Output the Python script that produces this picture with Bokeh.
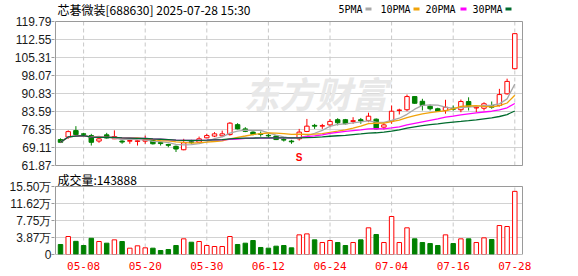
import pandas as pd
from bokeh.plotting import figure
from bokeh.layouts import column
from bokeh.models import ColumnDataSource, FixedTicker, Range1d, NumeralTickFormatter
from bokeh.core.properties import value
from bokeh.embed import file_html
from bokeh.resources import INLINE

# ---------------- data ----------------
dates = ["04-30", "05-06", "05-07", "05-08", "05-09", "05-12", "05-13", "05-14", "05-15", "05-16",
         "05-19", "05-20", "05-21", "05-22", "05-23", "05-26", "05-27", "05-28", "05-29", "05-30",
         "06-03", "06-04", "06-05", "06-06", "06-09", "06-10", "06-11", "06-12", "06-13", "06-16",
         "06-17", "06-18", "06-19", "06-20", "06-23", "06-24", "06-25", "06-26", "06-27", "06-30",
         "07-01", "07-02", "07-03", "07-04", "07-07", "07-08", "07-09", "07-10", "07-11", "07-14",
         "07-15", "07-16", "07-17", "07-18", "07-21", "07-22", "07-23", "07-24", "07-25", "07-28"]

opens = [72.3, 73.3, 75.9, 74.6, 73.9, 71.7, 74.2, 72.6, 71.7, 71.65,
         71.55, 71.65, 72.2, 71.1, 70.3, 69.6, 68.2, 71.4, 71.25, 73.0,
         73.7, 73.8, 74.3, 78.3, 76.6, 75.3, 74.6, 74.0, 73.7, 72.3,
         71.7, 72.6, 75.55, 78.0, 77.7, 78.2, 80.3, 80.3, 79.6, 80.3,
         80.0, 80.5, 77.3, 79.7, 84.0, 84.3, 89.6, 87.7, 85.7, 84.7,
         84.0, 84.9, 84.3, 87.6, 85.0, 84.9, 86.0, 86.0, 90.7, 100.8]
highs = [72.8, 76.0, 77.7, 75.0, 74.6, 73.5, 75.0, 76.0, 72.2, 72.9,
         72.2, 73.9, 72.6, 71.2, 70.6, 69.9, 72.6, 72.2, 73.5, 74.6,
         75.3, 75.9, 79.3, 78.9, 77.3, 75.6, 75.55, 74.6, 74.0, 72.85,
         72.2, 76.6, 80.6, 78.6, 78.6, 80.6, 80.9, 80.6, 81.3, 81.0,
         83.1, 80.8, 79.0, 86.0, 84.7, 90.4, 89.8, 88.7, 86.4, 85.1,
         88.3, 86.0, 88.4, 89.3, 85.6, 87.3, 87.6, 92.7, 96.8, 115.0]
lows = [70.9, 72.6, 73.8, 73.9, 69.9, 71.0, 72.6, 72.5, 70.6, 70.6,
        69.9, 70.6, 70.3, 69.9, 69.2, 67.3, 68.0, 70.6, 70.9, 72.8,
        73.3, 73.3, 73.9, 76.4, 75.3, 74.0, 73.5, 73.0, 72.1, 71.5,
        70.6, 71.9, 75.3, 76.6, 76.6, 77.3, 78.0, 78.4, 78.65, 78.65,
        79.3, 76.4, 76.35, 78.65, 82.4, 83.7, 86.7, 84.0, 84.0, 83.5,
        82.7, 83.9, 83.3, 84.0, 83.3, 84.0, 84.7, 85.6, 90.4, 100.5]
closes = [71.2, 75.5, 74.3, 74.4, 71.2, 72.6, 72.9, 73.5, 71.3, 71.9,
          71.8, 72.2, 70.6, 70.7, 70.0, 68.5, 71.0, 71.1, 72.6, 73.9,
          74.6, 74.6, 78.9, 76.6, 75.6, 74.4, 74.4, 73.8, 72.3, 72.1,
          71.4, 75.3, 77.7, 77.7, 77.9, 79.6, 79.05, 78.65, 79.9, 79.8,
          81.7, 76.6, 78.2, 83.7, 84.2, 89.6, 86.9, 86.0, 84.7, 83.7,
          85.3, 84.5, 87.6, 85.6, 85.3, 86.7, 85.3, 90.4, 95.7, 114.9]
volumes = [22800, 41000, 30000, 20500, 37000, 29600, 25800, 33400, 29600, 14400,
           19800, 15200, 14400, 9100, 11400, 20500, 35700, 28000, 29600, 20500,
           18200, 18200, 41000, 22800, 25800, 31900, 16000, 14400, 19000, 20500,
           15200, 44800, 47000, 33400, 27300, 31900, 27300, 20500, 27300, 33400,
           60800, 45600, 27300, 86600, 27300, 60800, 35700, 27300, 25000, 20500,
           44800, 25000, 35700, 35700, 27300, 38000, 34200, 66000, 63800, 143888]

x_labels = ["05-08", "05-20", "05-30", "06-12", "06-24", "07-04", "07-16", "07-28"]
price_ticks = [61.87, 69.11, 76.35, 83.59, 90.83, 98.07, 105.31, 112.55, 119.79]
vol_ticks = [0, 38750, 77500, 116250, 155000]
vol_tick_labels = ["0", "3.87万", "7.75万", "11.62万", "15.50万"]
ma_periods = [5, 10, 20, 30]
ma_names = ["5PMA", "10PMA", "20PMA", "30PMA"]
ma_colors = ["#a8a8a8", "#f0a30a", "#ff00ff", "#006b2e"]
stock_title = "芯碁微装[688630] 2025-07-28 15:30"
vol_title = "成交量:143888"
signal_date = "06-18"

# ---------------- derived ----------------
RED = "#ff0000"
GREEN = "#008000"
GRID = "#d2d2d2"
BORDER = "#9a9a9a"
n = len(dates)
idx = list(range(n))
up = [c >= o for o, c in zip(opens, closes)]
colors = [RED if u else GREEN for u in up]
fills = ["#ffffff" if u else GREEN for u in up]
BW = 0.29
src = ColumnDataSource(dict(
    x=idx, left=[i - BW for i in idx], right=[i + BW for i in idx],
    high=highs, low=lows,
    top=[max(o, c) for o, c in zip(opens, closes)],
    bottom=[min(o, c) for o, c in zip(opens, closes)],
    vol=volumes, zero=[0] * n, color=colors, fill=fills,
))
tick_pos = [dates.index(d) for d in x_labels]

# pixel geometry of the reference (plot box 55..522 x, price 21..165 y, volume 186..254 y)
UNIT = 7.7
XL, XR_ = -0.65, 60.0
PAD = 1.0 / UNIT
XR = Range1d(XL - PAD, XR_ + PAD)
P_TOP_PX, P_BOT_PX = 21, 165
P_PER_PX = (price_ticks[-1] - price_ticks[0]) / (P_BOT_PX - P_TOP_PX)
V_TOP_PX, V_BOT_PX = 186, 254
V_PER_PX = vol_ticks[-1] / (V_BOT_PX - V_TOP_PX)
FIG1_H = 172
FIG2_H = 276 - FIG1_H


def px_to_x(px):
    return (px - 55) / UNIT + XL


def py_to_price(py):
    return price_ticks[-1] - (py - P_TOP_PX) * P_PER_PX


def py_to_vol(py):
    return (V_BOT_PX - py) * V_PER_PX


FONT_NUM = "Liberation Sans"
FONT_MONO = "DejaVu Sans Mono"
FONT_CJK = "Noto Sans CJK SC"


def style(fig, yticks, y0, y1):
    fig.outline_line_color = None
    fig.background_fill_color = "#ffffff"
    fig.border_fill_color = "#ffffff"
    fig.xgrid.visible = False
    fig.ygrid.visible = False
    fig.yaxis.ticker = FixedTicker(ticks=yticks)
    fig.yaxis.axis_line_color = None
    fig.yaxis.major_tick_line_color = BORDER
    fig.yaxis.major_tick_out = 3
    fig.yaxis.major_tick_in = 0
    fig.yaxis.minor_tick_line_color = None
    fig.yaxis.major_label_standoff = 0
    fig.yaxis.major_label_text_font = FONT_NUM
    fig.yaxis.major_label_text_font_size = "12px"
    fig.yaxis.major_label_text_color = "#1a1a1a"
    # horizontal grid (solid) and vertical grid (dashed), limited to the plot box
    fig.segment(x0=[XL] * len(yticks), x1=[XR_] * len(yticks), y0=yticks, y1=yticks,
                line_color=GRID, line_width=1)
    fig.segment(x0=tick_pos, x1=tick_pos, y0=[y0] * len(tick_pos), y1=[y1] * len(tick_pos),
                line_color="#c8c8c8", line_width=1, line_dash="4 3")


# ---------------- price panel ----------------
p = figure(width=578, height=FIG1_H, x_range=XR,
           y_range=Range1d(py_to_price(FIG1_H), py_to_price(0)),
           x_axis_location=None, output_backend="svg", toolbar_location=None,
           min_border_left=54, min_border_right=55, min_border_top=0, min_border_bottom=0)
style(p, price_ticks, price_ticks[0], price_ticks[-1])
p.yaxis.formatter = NumeralTickFormatter(format="0.00")

# watermark
p.text(x=[px_to_x(315)], y=[py_to_price(91)], text=["东方财富"], text_font=value(FONT_CJK),
       text_font_size="36px", text_font_style="bold italic", text_color="#e8e8e8",
       text_align="center", text_baseline="middle")

p.segment(x0="x", y0="low", x1="x", y1="high", color="color", line_width=1, source=src)
p.quad(left="left", right="right", top="top", bottom="bottom", fill_color="fill",
       line_color="color", line_width=1, source=src)

cs = pd.Series(closes)
for per, col in zip(ma_periods, ma_colors):
    ma = cs.rolling(per, min_periods=1).mean().tolist()
    p.line(idx, ma, color=col, line_width=1.3)

# signal marker
p.text(x=[dates.index(signal_date)], y=[py_to_price(157)], text=["S"], text_font=value(FONT_NUM),
       text_font_size="10px", text_font_style="bold", text_color=RED, text_align="center",
       text_baseline="middle")

# plot box border
p.quad(left=[XL], right=[XR_], bottom=[price_ticks[0]], top=[price_ticks[-1]],
       fill_color=None, line_color=BORDER, line_width=1)

# title and legend
p.text(x=[px_to_x(57)], y=[py_to_price(9)], text=[stock_title], text_font=value(FONT_CJK),
       text_font_size="12px", text_baseline="middle", text_align="left", text_color="#000000")
leg_text_px = [338, 380, 425, 472]
leg_box_px = [365, 413, 460, 505]
p.text(x=[px_to_x(t) for t in leg_text_px], y=[py_to_price(8.5)] * 4, text=ma_names,
       text_font=value(FONT_MONO), text_font_size="10px", text_baseline="middle",
       text_align="left", text_color="#000000")
p.quad(left=[px_to_x(b) for b in leg_box_px], right=[px_to_x(b + 6) for b in leg_box_px],
       top=[py_to_price(7)] * 4, bottom=[py_to_price(10)] * 4, fill_color=ma_colors,
       line_color=None)

# ---------------- volume panel ----------------
v = figure(width=578, height=FIG2_H, x_range=XR,
           y_range=Range1d(0, py_to_vol(FIG1_H)),
           output_backend="svg", toolbar_location=None,
           min_border_left=54, min_border_right=55, min_border_top=0, min_border_bottom=22)
style(v, vol_ticks, 0, vol_ticks[-1])
v.yaxis.major_label_overrides = {t: s for t, s in zip(vol_ticks, vol_tick_labels)}
v.xaxis.ticker = FixedTicker(ticks=tick_pos)
v.xaxis.major_label_overrides = {t: s for t, s in zip(tick_pos, x_labels)}
v.xaxis.axis_line_color = None
v.xaxis.major_tick_line_color = None
v.xaxis.major_tick_out = 0
v.xaxis.minor_tick_line_color = None
v.xaxis.major_label_standoff = 7
v.xaxis.major_label_text_font = FONT_MONO
v.xaxis.major_label_text_font_size = "11px"
v.xaxis.major_label_text_color = RED

v.quad(left="left", right="right", top="vol", bottom="zero", fill_color="fill",
       line_color="color", line_width=1, source=src)
v.quad(left=[XL], right=[XR_], bottom=[0], top=[vol_ticks[-1]],
       fill_color=None, line_color=BORDER, line_width=1)
v.text(x=[px_to_x(57)], y=[py_to_vol(178.5)], text=[vol_title], text_font=value(FONT_CJK),
       text_font_size="12px", text_baseline="middle", text_align="left", text_color="#000000")

layout = column(p, v, spacing=0)
open("out.html", "w").write(file_html(layout, INLINE))
